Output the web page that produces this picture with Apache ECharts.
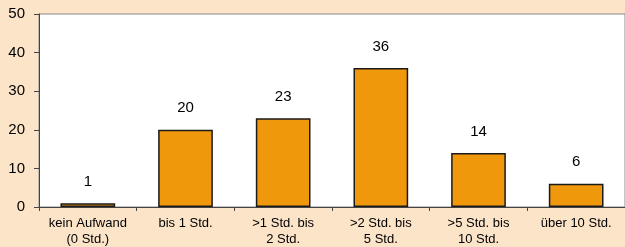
<!DOCTYPE html>
<html><head><meta charset="utf-8">
<script src="https://cdn.jsdelivr.net/npm/echarts@6/dist/echarts.min.js"></script>
<style>html,body{margin:0;padding:0;background:#FCE4C8;}#c{width:625px;height:247px;}</style>
</head><body><div id="c"></div>
<script>
const categories = ['kein Aufwand\n(0 Std.)', 'bis 1 Std.', '>1 Std. bis\n2 Std.', '>2 Std. bis\n5 Std.', '>5 Std. bis\n10 Std.', 'über 10 Std.'];
const values = [1, 20, 23, 36, 14, 6];
const yTicks = [0, 10, 20, 30, 40, 50];

const chart = echarts.init(document.getElementById('c'));
chart.setOption({
  backgroundColor: '#FCE4C8',
  animation: false,
  grid: { left: 39, top: 14, width: 592, height: 193, show: true, backgroundColor: '#ffffff', borderColor: '#8a8a8a', borderWidth: 1 },
  xAxis: {
    type: 'category', data: categories,
    axisLine: { lineStyle: { color: '#444', width: 1 } },
    axisTick: { show: true, length: 4, lineStyle: { color: '#444' } },
    axisLabel: { color: '#000', fontFamily: 'Liberation Sans, Arial', fontSize: 13, lineHeight: 16, margin: 8, interval: 0 }
  },
  yAxis: {
    type: 'value', min: yTicks[0], max: yTicks[yTicks.length - 1], interval: 10,
    splitLine: { show: false },
    axisLine: { show: true, lineStyle: { color: '#444', width: 1 } },
    axisTick: { show: true, length: 5, lineStyle: { color: '#444' } },
    axisLabel: { color: '#000', fontFamily: 'Liberation Sans, Arial', fontSize: 15, margin: 14 }
  },
  series: [{
    type: 'bar', data: values, barWidth: '56%',
    itemStyle: { color: '#F0980C', borderColor: '#1a1a1a', borderWidth: 1.5 },
    label: { show: true, position: 'top', distance: 14, color: '#000', fontFamily: 'Liberation Sans, Arial', fontSize: 15 }
  }]
});
</script></body></html>
